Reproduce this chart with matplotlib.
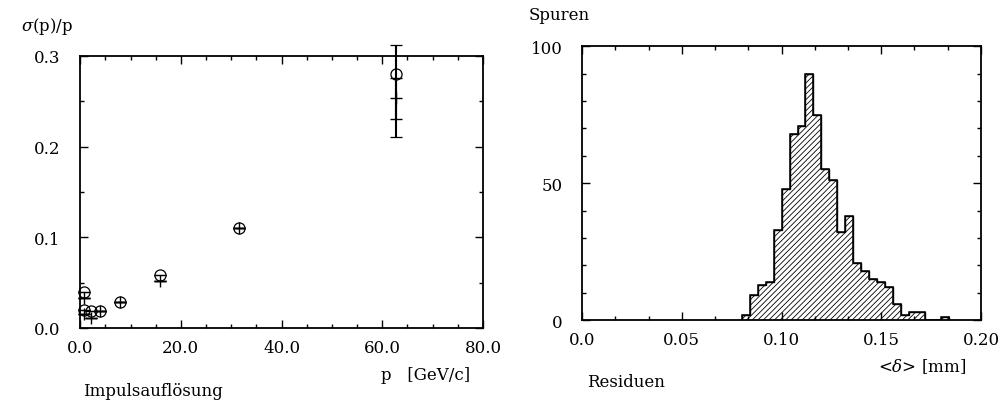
import numpy as np
import matplotlib.pyplot as plt
from matplotlib.ticker import MultipleLocator, FixedLocator

# momentum resolution (left panel)
p_circ = [0.8, 0.8, 2.2, 4.0, 8.0, 15.8, 31.5, 62.8]
res_circ = [0.040, 0.020, 0.019, 0.019, 0.028, 0.058, 0.110, 0.280]
p_plus = [0.8, 0.8, 2.2, 4.0, 8.0, 15.8, 31.5, 62.8]
res_plus = [0.033, 0.015, 0.011, 0.019, 0.028, 0.052, 0.110, 0.253]
err_circ_lo = [0, 0, 0, 0, 0, 0, 0, 0.070]
err_circ_hi = [0, 0, 0, 0, 0, 0, 0, 0.032]
err_plus = [0, 0, 0, 0, 0, 0, 0, 0.023]

# residual histogram (right panel)
bin_edges = np.round(np.arange(0.080, 0.1841, 0.004), 3)
counts = [2, 9, 13, 14, 33, 48, 68, 71, 90, 75, 55, 51, 32, 38,
          21, 18, 15, 14, 12, 6, 2, 3, 3, 0, 0, 1]

plt.rcParams['font.family'] = ['DejaVu Serif']
plt.rcParams['mathtext.fontset'] = 'dejavuserif'
plt.rcParams['hatch.linewidth'] = 0.6
fs = 12

fig = plt.figure(figsize=(10.02, 4.06), dpi=100)

# ---- left panel
ax1 = fig.add_axes([0.080, 0.190, 0.402, 0.670])
ax1.errorbar(p_circ, res_circ, yerr=[err_circ_lo, err_circ_hi], fmt='o',
             mfc='none', mec='k', ms=8, mew=0.9, ecolor='k', elinewidth=1.5,
             capsize=4, capthick=1.2, clip_on=False)
ax1.errorbar(p_plus, res_plus, yerr=err_plus, fmt='+', color='k', ms=9,
             mew=1.0, elinewidth=1.5, capsize=4, capthick=1.2, clip_on=False)
ax1.set_xlim(0, 80)
ax1.set_ylim(0, 0.3)
ax1.xaxis.set_major_locator(FixedLocator([0, 20, 40, 60, 80]))
ax1.xaxis.set_minor_locator(MultipleLocator(5))
ax1.yaxis.set_major_locator(FixedLocator([0, 0.1, 0.2, 0.3]))
ax1.yaxis.set_minor_locator(MultipleLocator(0.05))
ax1.set_xticklabels(['0.0', '20.0', '40.0', '60.0', '80.0'])
ax1.set_yticklabels(['0.0', '0.1', '0.2', '0.3'])
fig.text(0.021, 0.935, r'$\sigma$(p)/p', fontsize=fs, ha='left', va='center')
fig.text(0.380, 0.076, 'p   [GeV/c]', fontsize=fs, ha='left', va='center')
fig.text(0.083, 0.035, 'Impulsauflösung', fontsize=fs, ha='left', va='center')

# ---- right panel
ax2 = fig.add_axes([0.581, 0.209, 0.398, 0.675])
ax2.stairs(counts, bin_edges, fill=True, facecolor='white', edgecolor='k',
           hatch='//////', linewidth=1.0)
ax2.stairs(counts, bin_edges, color='k', linewidth=1.1)
ax2.set_xlim(0, 0.2)
ax2.set_ylim(0, 100)
ax2.xaxis.set_major_locator(FixedLocator([0, 0.05, 0.10, 0.15, 0.20]))
ax2.xaxis.set_minor_locator(MultipleLocator(0.05 / 3))
ax2.yaxis.set_major_locator(FixedLocator([0, 50, 100]))
ax2.yaxis.set_minor_locator(MultipleLocator(10))
ax2.set_xticklabels(['0.0', '0.05', '0.10', '0.15', '0.20'])
ax2.set_yticklabels(['0', '50', '100'])
fig.text(0.528, 0.963, 'Spuren', fontsize=fs, ha='left', va='center')
fig.text(0.876, 0.096, r'<$\delta$> [mm]', fontsize=fs, ha='left', va='center')
fig.text(0.586, 0.057, 'Residuen', fontsize=fs, ha='left', va='center')

for ax in (ax1, ax2):
    for s in ax.spines.values():
        s.set_linewidth(1.3)
    ax.tick_params(which='both', direction='in', top=True, right=True,
                   labelsize=fs, width=1.0)
    ax.tick_params(which='major', length=6)
    ax.tick_params(which='minor', length=3)
    ax.tick_params(axis='x', which='major', pad=8)
    ax.tick_params(axis='y', which='major', pad=14)

fig.savefig('out.png', dpi=100)
